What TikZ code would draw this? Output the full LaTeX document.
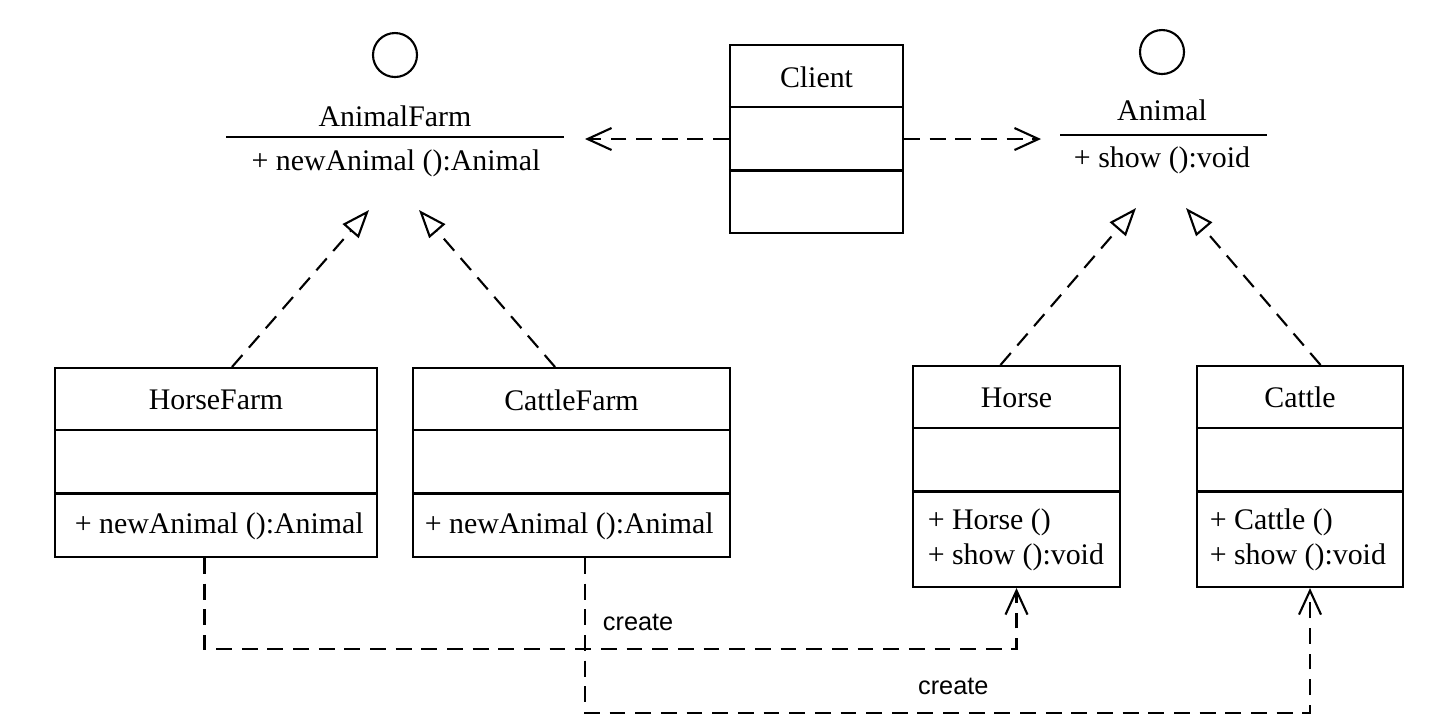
\documentclass[tikz,border=0pt]{standalone}
\usepackage{fontspec}
\setmainfont{Liberation Serif}
\newfontfamily\createfont{Liberation Sans}
\usetikzlibrary{arrows.meta}

\begin{document}
\begin{tikzpicture}[
        font=\fontsize{8.5}{10}\selectfont,
        line width=0.6pt,
        cls/.style={draw, inner sep=0pt},
        iface/.style={draw, circle, minimum size=0.44cm, inner sep=0pt},
        dep/.style={dash pattern=on 4.5pt off 2.8pt, -{Straight Barb[length=2.4mm, width=2.2mm]}},
        real/.style={dash pattern=on 4.5pt off 2.8pt, -{Triangle[open, length=2.8mm, width=2.1mm]}},
        lbl/.style={font=\createfont\fontsize{7.2}{9}\selectfont}
    ]
        \useasboundingbox (0,0) rectangle (14.44,-7.26);

        % Interfaces
        \node[iface] (afc) at (3.95,-0.55) {};
        \node (af) at (3.95,-1.16) {AnimalFarm};
        \draw (2.26,-1.37) -- (5.64,-1.37);
        \node (afop) at (3.96,-1.63) {+ newAnimal ():Animal};

        \node[iface] (anc) at (11.62,-0.52) {};
        \node (an) at (11.62,-1.10) {Animal};
        \draw (10.60,-1.35) -- (12.67,-1.35);
        \node (anop) at (11.62,-1.60) {+ show ():void};

        % Classes
        \node[cls, minimum width=1.73cm, minimum height=1.88cm] (cl) at (8.165,-1.39) {};
        \node (clname) at (8.165,-0.77) {Client};

        \node[cls, minimum width=3.22cm, minimum height=1.89cm] (hf) at (2.16,-4.625) {};
        \node (hfname) at (2.16,-4.0) {HorseFarm};
        \node[anchor=west] (hfop) at (0.62,-5.26) {+ newAnimal ():Animal};

        \node[cls, minimum width=3.17cm, minimum height=1.89cm] (cf) at (5.715,-4.625) {};
        \node (cfname) at (5.715,-4.0) {CattleFarm};
        \node[anchor=west] (cfop) at (4.12,-5.26) {+ newAnimal ():Animal};

        \node[cls, minimum width=2.07cm, minimum height=2.21cm] (ho) at (10.165,-4.765) {};
        \node (honame) at (10.165,-3.975) {Horse};
        \node[anchor=west, align=left] (hoop) at (9.15,-5.40) {+ Horse ()\\+ show ():void};

        \node[cls, minimum width=2.06cm, minimum height=2.21cm] (ca) at (13.0,-4.765) {};
        \node (caname) at (13.0,-3.975) {Cattle};
        \node[anchor=west, align=left] (caop) at (11.97,-5.40) {+ Cattle ()\\+ show ():void};

        % Compartments
        \foreach \c in {cl, hf, cf, ho, ca} {
            \draw ([yshift=-0.63cm]\c.north west) -- ([yshift=-0.63cm]\c.north east);
            \draw ([yshift=-1.265cm]\c.north west) -- ([yshift=-1.265cm]\c.north east);
        }

        % Arrows
        \coordinate (afend) at (5.85,-1.39);
        \coordinate (anend) at (10.41,-1.39);
        \draw[dep] (cl.west) -- (afend);
        \draw[dep] (cl.east) -- (anend);

        \coordinate (aftipl) at (3.69,-2.10);
        \coordinate (aftipr) at (4.19,-2.10);
        \coordinate (antipl) at (11.36,-2.08);
        \coordinate (antipr) at (11.86,-2.08);
        \draw[real] ([xshift=0.16cm]hf.north) -- (aftipl);
        \draw[real] ([xshift=-0.165cm]cf.north) -- (aftipr);
        \draw[real] ([xshift=-0.16cm]ho.north) -- (antipl);
        \draw[real] ([xshift=0.205cm]ca.north) -- (antipr);

        \draw[dep] ([xshift=-0.115cm]hf.south) -- ++(0,-0.91) -| (ho.south)
            node[lbl, pos=0.267, above=1.5pt] (c1) {create};
        \draw[dep] ([xshift=0.135cm]cf.south) -- ++(0,-1.55) -| ([xshift=0.10cm]ca.south)
            node[lbl, pos=0.254, above=1.5pt] (c2) {create};
    \end{tikzpicture}
\end{document}
